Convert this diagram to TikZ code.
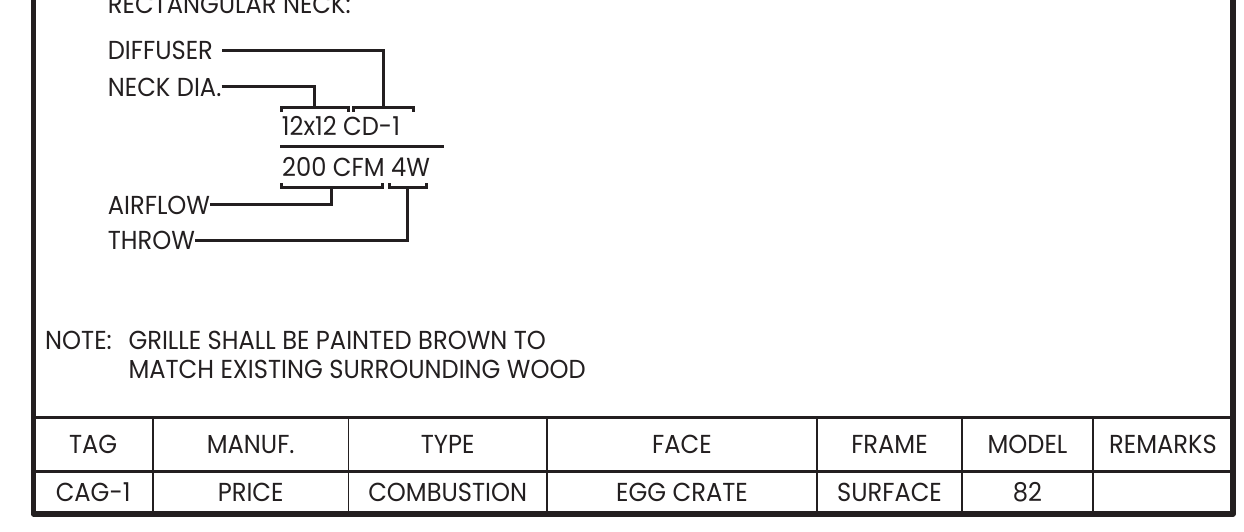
\documentclass[tikz,border=0pt]{standalone}
\usepackage{fontspec}
\setmainfont{Poppins}[FakeStretch=0.93]
\definecolor{ink}{RGB}{35,31,32}
\begin{document}
\begin{tikzpicture}[x=1pt,y=-1pt,
  txt/.style={font=\fontsize{26}{31}\selectfont, inner sep=0pt, text=ink},
  lbl/.style={txt, anchor=base west},
  cell/.style={txt, text height=18.1pt, text depth=0pt, anchor=center},
  conn/.style={line width=3pt, draw=ink},
  brk/.style={line width=3pt, draw=ink},
  frame/.style={line width=5.5pt, draw=ink, line join=round},
  hrule/.style={line width=3pt, draw=ink},
  vrule/.style={line width=1.8pt, draw=ink}]
\useasboundingbox (0,0) rectangle (1244,531);
% outer frame
\coordinate (ftl) at (33.5,-10);
\coordinate (fbl) at (33.5,514);
\coordinate (fbr) at (1233,514);
\coordinate (ftr) at (1233,-10);
\draw[frame] (ftl) -- (fbl) -- (fbr) -- (ftr);
% callout texts
\node[lbl] (rect) at (107.7,13) {RECTANGULAR NECK:};
\node[lbl] (diff) at (107.7,59.3) {DIFFUSER};
\node[lbl] (neck) at (107.7,96) {NECK DIA.};
\node[lbl] (tag1) at (281.7,135) {12x12 CD-1};
\node[lbl] (tag2) at (282,176) {200 CFM 4W};
\node[lbl] (air) at (107.7,214) {AIRFLOW};
\node[lbl] (throw) at (107.7,249.3) {THROW};
% divider
\coordinate (dl) at (280,146);
\coordinate (dr) at (444.3,146);
\draw[conn] (dl) -- (dr);
% brackets
\coordinate (b1) at (314.7,107.3);
\coordinate (b2) at (383.3,107.3);
\coordinate (b3) at (331.7,187.7);
\coordinate (b4) at (407.5,187.7);
\draw[brk] (281,111.5) -- (281,107.3) -- (348.3,107.3) -- (348.3,111.5);
\draw[brk] (353.3,111.5) -- (353.3,107.3) -- (413.3,107.3) -- (413.3,111.5);
\draw[brk] (281,183) -- (281,187.7) -- (382.3,187.7) -- (382.3,183);
\draw[brk] (389,183) -- (389,187.7) -- (426,187.7) -- (426,183);
% connectors
\draw[conn] ([xshift=9pt]diff.east) -| (b2);
\draw[conn] (neck.east) -| (b1);
\draw[conn] (air.east) -| (b3);
\draw[conn] (throw.east) -| (b4);
% note
\node[lbl] (note) at (45,349.3) {NOTE:};
\node[lbl] (note1) at (128.3,349.3) {GRILLE SHALL BE PAINTED BROWN TO};
\node[lbl] (note2) at (128.3,378.3) {MATCH EXISTING SURROUNDING WOOD};
% table
\coordinate (tl) at (33.5,417);
\coordinate (tr) at (1233,417);
\coordinate (ml) at (33.5,471);
\coordinate (mr) at (1233,471);
\draw[hrule] (tl) -- (tr);
\draw[hrule] (ml) -- (mr);
\foreach \cx in {153,348.5,547,817,962,1093}{
  \draw[vrule] (\cx,417) -- (\cx,514);
}
\node[cell] (h1) at (93.2,444) {TAG};
\node[cell] (h2) at (250.7,444) {MANUF.};
\node[cell] (h3) at (447.7,444) {TYPE};
\node[cell] (h4) at (682,444) {FACE};
\node[cell] (h5) at (889.5,444) {FRAME};
\node[cell] (h6) at (1027.5,444) {MODEL};
\node[cell] (h7) at (1163,444) {REMARKS};
\node[cell] (d1) at (93.2,492.5) {CAG-1};
\node[cell] (d2) at (250.7,492.5) {PRICE};
\node[cell] (d3) at (447.7,492.5) {COMBUSTION};
\node[cell] (d4) at (682,492.5) {EGG CRATE};
\node[cell] (d5) at (889.5,492.5) {SURFACE};
\node[cell] (d6) at (1027.5,492.5) {82};
\end{tikzpicture}
\end{document}
